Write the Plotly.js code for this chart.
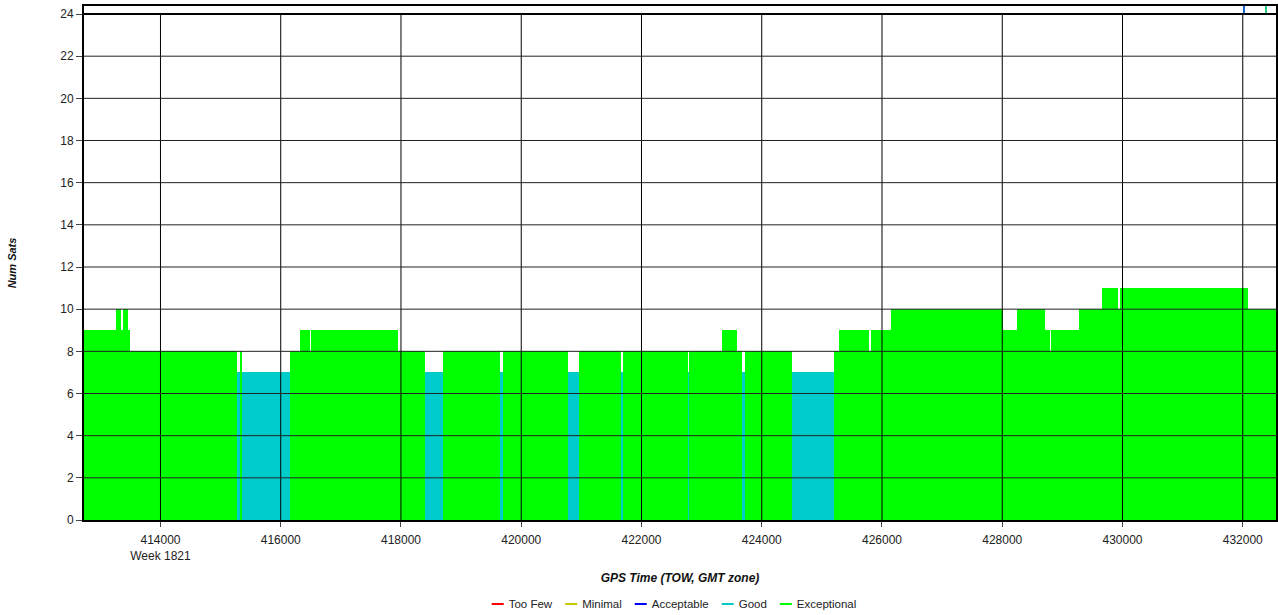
<!DOCTYPE html>
<html>
<head>
<meta charset="utf-8">
<script src="https://cdn.plot.ly/plotly-3.0.1.min.js"></script>
<style>
  html, body { margin: 0; padding: 0; background: #fff; }
  #chart { width: 1278px; height: 615px; }
</style>
</head>
<body>
<div id="chart"></div>
<script>
// ---- Data ----
// Step series: start time (GPS TOW, s) of each segment and number of satellites
const segStart = [
  412728, 413264, 413335, 413373, 413463, 413501, 415275, 415330, 415363, 416152,
  416328, 416481, 416498, 417951, 418393, 418693, 419653, 419702, 420778, 420954,
  421664, 421692, 422773, 422790, 423343, 423587, 423673, 423726, 424502, 425194,
  425284, 425787, 425816, 426148, 428006, 428239, 428715, 428796, 428813, 429271,
  429664, 429933, 429958, 432093
];
const segValue = [
  9, 10, 9, 10, 9, 8, 7, 8, 7, 8,
  9, 8, 9, 8, 7, 8, 7, 8, 7, 8,
  7, 8, 7, 8, 9, 8, 7, 8, 7, 8,
  9, 8, 9, 10, 9, 10, 9, 8, 9, 10,
  11, 10, 11, 10
];
const dataEnd = 432553;

// small marks in the strip above 24
const markTime = [432000, 432370];
const markQuality = ['Acceptable', 'Exceptional'];

// quality categories
const qualityNames = ['Too Few', 'Minimal', 'Acceptable', 'Good', 'Exceptional'];
const qualityColors = ['#FF0000', '#C8C800', '#0000FF', '#00CCCC', '#00FF00'];
const markColors = ['#FF0000', '#C8C800', '#1565D0', '#00CCCC', '#20D080'];

// axis ticks
const xTicks = [414000, 416000, 418000, 420000, 422000, 424000, 426000, 428000, 430000, 432000];
const xTickText = ['414000<br>Week 1821', '416000', '418000', '420000', '422000', '424000', '426000', '428000', '430000', '432000'];
const yTicks = [0, 2, 4, 6, 8, 10, 12, 14, 16, 18, 20, 22, 24];

// ---- Build traces ----
function qualityOf(v) {
  if (v >= 8) return 'Exceptional';
  if (v === 7) return 'Good';
  if (v === 6) return 'Acceptable';
  if (v === 5) return 'Minimal';
  return 'Too Few';
}

const traces = [];
qualityNames.forEach((q, qi) => {
  const xs = [], ys = [], ws = [];
  segStart.forEach((s, i) => {
    if (qualityOf(segValue[i]) !== q) return;
    const e = (i + 1 < segStart.length) ? segStart[i + 1] : dataEnd;
    xs.push(s); ys.push(segValue[i]); ws.push(e - s);
  });
  if (xs.length) {
    traces.push({
      type: 'bar', x: xs, y: ys, width: ws, offset: 0,
      marker: { color: qualityColors[qi], line: { width: 0 } },
      showlegend: false, hoverinfo: 'x+y'
    });
  }
});

// marks in the top strip
markTime.forEach((t, i) => {
  traces.push({
    type: 'bar', x: [t], y: [0.33], base: [24.05], width: [35], offset: 0,
    marker: { color: markColors[qualityNames.indexOf(markQuality[i])], line: { width: 0 } },
    showlegend: false, hoverinfo: 'x'
  });
});

// legend entries (line style)
qualityNames.forEach((q, qi) => {
  traces.push({
    type: 'scatter', mode: 'lines', x: [null], y: [null], name: q,
    line: { color: qualityColors[qi], width: 2 }
  });
});

// grid lines drawn above the filled areas
const shapes = [];
xTicks.forEach(t => shapes.push({
  type: 'line', layer: 'above', xref: 'x', yref: 'y', x0: t, x1: t, y0: 0, y1: 24,
  line: { color: '#000', width: 1 }
}));
yTicks.forEach(t => {
  if (t === 0) return;
  shapes.push({
    type: 'line', layer: 'above', xref: 'paper', yref: 'y', x0: 0, x1: 1, y0: t, y1: t,
    line: { color: t === 24 ? '#000' : '#222', width: t === 24 ? 2 : 1 }
  });
});

const font = 'Liberation Sans, Arial, sans-serif';

const layout = {
  width: 1278, height: 615,
  margin: { l: 84, r: 2, t: 6, b: 95, autoexpand: false },
  paper_bgcolor: '#fff', plot_bgcolor: '#fff',
  barmode: 'overlay',
  bargap: 0,
  font: { family: font, size: 12, color: '#222' },
  xaxis: {
    range: [412728, dataEnd],
    tickmode: 'array', tickvals: xTicks, ticktext: xTickText,
    showgrid: false, zeroline: false,
    showline: true, linecolor: '#000', linewidth: 2, mirror: true,
    ticks: 'outside', ticklen: 5, tickcolor: '#444', tickwidth: 1,
    ticklabelstandoff: 3,
    tickfont: { family: font, size: 12, color: '#222' },
    title: { text: 'GPS Time (TOW, GMT zone)', standoff: 12,
      font: { family: font, size: 12, color: '#111', weight: 'bold', style: 'italic' } }
  },
  yaxis: {
    range: [0, 24.38],
    tickmode: 'array', tickvals: yTicks,
    showgrid: false, zeroline: false,
    showline: true, linecolor: '#000', linewidth: 2, mirror: true,
    ticks: 'outside', ticklen: 6, tickcolor: '#444', tickwidth: 1,
    tickfont: { family: font, size: 12, color: '#222' },
    title: { text: 'Num Sats', standoff: 41,
      font: { family: font, size: 11, color: '#111', weight: 'bold', style: 'italic' } }
  },
  showlegend: true,
  legend: {
    orientation: 'h', x: 0.494, xanchor: 'center',
    yref: 'container', y: 0.018, yanchor: 'middle',
    font: { family: font, size: 11.5, color: '#222' },
    itemwidth: 30, bgcolor: 'rgba(0,0,0,0)'
  },
  shapes: shapes
};

const gd = document.getElementById('chart');
Plotly.newPlot(gd, traces, layout, { displayModeBar: false, staticPlot: true }).then(() => {
  // compact legend entries: short line sample, tight spacing (as in the reference)
  const legend = gd.querySelector('g.legend');
  if (!legend) return;
  const m = /translate\(\s*([-\d.]+)[ ,]+([-\d.]+)\s*\)/.exec(legend.getAttribute('transform') || '');
  const legendX = m ? parseFloat(m[1]) : 0;
  const items = Array.from(legend.querySelectorAll('g.traces'));
  const lineLen = 12, lineGap = 5, itemGap = 13;
  const widths = items.map(it => {
    const txt = it.querySelector('text.legendtext');
    return txt ? txt.getComputedTextLength() : 0;
  });
  const total = widths.reduce((a, w) => a + lineLen + lineGap + w + itemGap, 0) - itemGap;
  const centerX = 674;
  let cum = centerX - total / 2 - legendX;
  items.forEach((it, i) => {
    const tm = /translate\(\s*([-\d.]+)[ ,]+([-\d.]+)\s*\)/.exec(it.getAttribute('transform') || '');
    const ty = tm ? parseFloat(tm[2]) : 0;
    it.setAttribute('transform', 'translate(' + cum + ',' + ty + ')');
    it.querySelectorAll('g.legendlines path').forEach(p => p.setAttribute('d', 'M0,0h' + lineLen));
    const txt = it.querySelector('text.legendtext');
    if (txt) txt.setAttribute('x', lineLen + lineGap);
    cum += lineLen + lineGap + widths[i] + itemGap;
  });
});
</script>
</body>
</html>
